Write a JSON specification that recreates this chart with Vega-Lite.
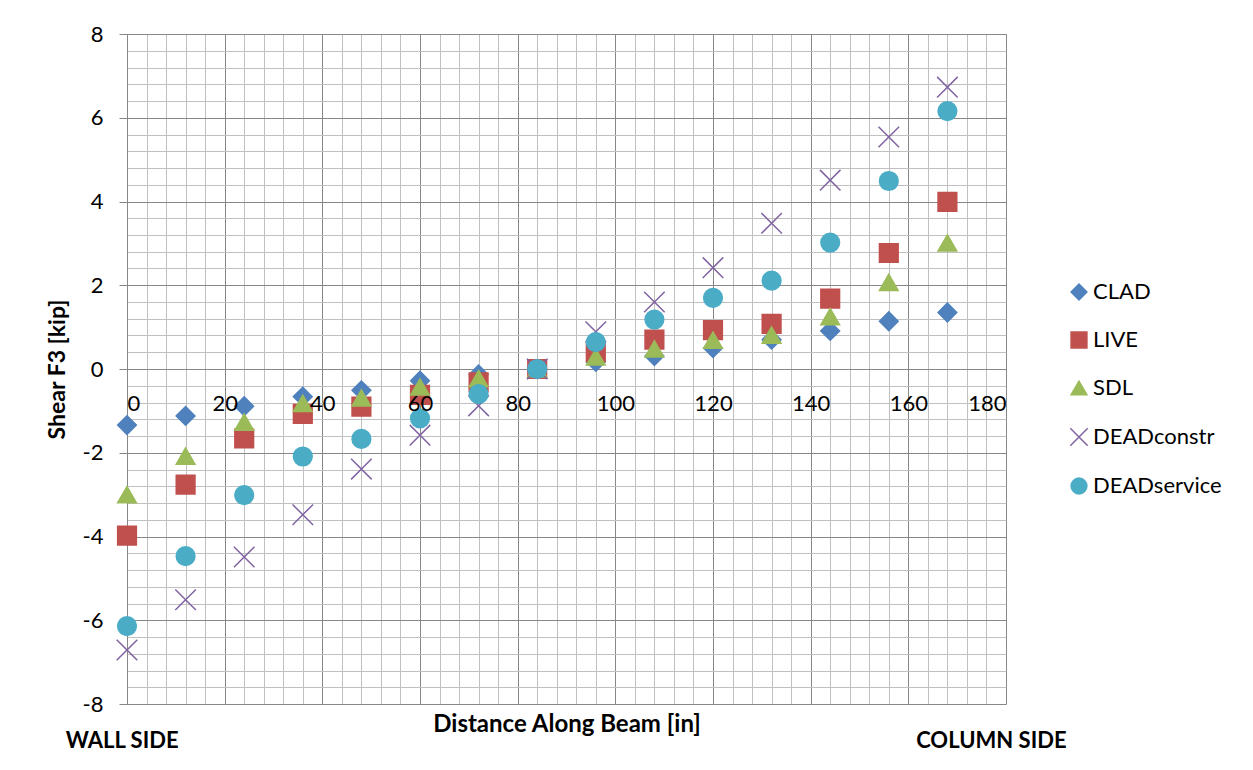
{
  "$schema": "https://vega.github.io/schema/vega-lite/v6.json",
  "width": 879,
  "height": 670,
  "autosize": {"type": "none"},
  "padding": {"left": 127, "top": 34, "right": 247, "bottom": 66},
  "background": "white",
  "config": {
    "font": "Lato",
    "view": {"stroke": null}
  },
  "resolve": {"axis": {"x": "independent", "y": "independent"}},
  "layer": [
    {
      "data": {
        "values": [
          {"x": 0, "series": "CLAD", "v": -1.34},
          {"x": 12, "series": "CLAD", "v": -1.12},
          {"x": 24, "series": "CLAD", "v": -0.89},
          {"x": 36, "series": "CLAD", "v": -0.66},
          {"x": 48, "series": "CLAD", "v": -0.51},
          {"x": 60, "series": "CLAD", "v": -0.28},
          {"x": 72, "series": "CLAD", "v": -0.13},
          {"x": 84, "series": "CLAD", "v": 0},
          {"x": 96, "series": "CLAD", "v": 0.17},
          {"x": 108, "series": "CLAD", "v": 0.31},
          {"x": 120, "series": "CLAD", "v": 0.5},
          {"x": 132, "series": "CLAD", "v": 0.7},
          {"x": 144, "series": "CLAD", "v": 0.91},
          {"x": 156, "series": "CLAD", "v": 1.14},
          {"x": 168, "series": "CLAD", "v": 1.35},
          {"x": 0, "series": "LIVE", "v": -3.98},
          {"x": 12, "series": "LIVE", "v": -2.76},
          {"x": 24, "series": "LIVE", "v": -1.66},
          {"x": 36, "series": "LIVE", "v": -1.07},
          {"x": 48, "series": "LIVE", "v": -0.9},
          {"x": 60, "series": "LIVE", "v": -0.62},
          {"x": 72, "series": "LIVE", "v": -0.32},
          {"x": 84, "series": "LIVE", "v": 0},
          {"x": 96, "series": "LIVE", "v": 0.4},
          {"x": 108, "series": "LIVE", "v": 0.7},
          {"x": 120, "series": "LIVE", "v": 0.93},
          {"x": 132, "series": "LIVE", "v": 1.08},
          {"x": 144, "series": "LIVE", "v": 1.68},
          {"x": 156, "series": "LIVE", "v": 2.77},
          {"x": 168, "series": "LIVE", "v": 3.99},
          {"x": 0, "series": "SDL", "v": -3.0},
          {"x": 12, "series": "SDL", "v": -2.08},
          {"x": 24, "series": "SDL", "v": -1.27},
          {"x": 36, "series": "SDL", "v": -0.82},
          {"x": 48, "series": "SDL", "v": -0.69},
          {"x": 60, "series": "SDL", "v": -0.43},
          {"x": 72, "series": "SDL", "v": -0.23},
          {"x": 84, "series": "SDL", "v": 0},
          {"x": 96, "series": "SDL", "v": 0.29},
          {"x": 108, "series": "SDL", "v": 0.48},
          {"x": 120, "series": "SDL", "v": 0.69},
          {"x": 132, "series": "SDL", "v": 0.81},
          {"x": 144, "series": "SDL", "v": 1.25},
          {"x": 156, "series": "SDL", "v": 2.07},
          {"x": 168, "series": "SDL", "v": 3.01},
          {"x": 0, "series": "DEADconstr", "v": -6.71},
          {"x": 12, "series": "DEADconstr", "v": -5.51},
          {"x": 24, "series": "DEADconstr", "v": -4.49},
          {"x": 36, "series": "DEADconstr", "v": -3.48},
          {"x": 48, "series": "DEADconstr", "v": -2.39},
          {"x": 60, "series": "DEADconstr", "v": -1.58},
          {"x": 72, "series": "DEADconstr", "v": -0.88},
          {"x": 84, "series": "DEADconstr", "v": 0},
          {"x": 96, "series": "DEADconstr", "v": 0.89},
          {"x": 108, "series": "DEADconstr", "v": 1.6},
          {"x": 120, "series": "DEADconstr", "v": 2.42},
          {"x": 132, "series": "DEADconstr", "v": 3.48},
          {"x": 144, "series": "DEADconstr", "v": 4.51},
          {"x": 156, "series": "DEADconstr", "v": 5.54},
          {"x": 168, "series": "DEADconstr", "v": 6.73},
          {"x": 0, "series": "DEADservice", "v": -6.14},
          {"x": 12, "series": "DEADservice", "v": -4.47},
          {"x": 24, "series": "DEADservice", "v": -3.01},
          {"x": 36, "series": "DEADservice", "v": -2.09},
          {"x": 48, "series": "DEADservice", "v": -1.67},
          {"x": 60, "series": "DEADservice", "v": -1.18},
          {"x": 72, "series": "DEADservice", "v": -0.6},
          {"x": 84, "series": "DEADservice", "v": 0},
          {"x": 96, "series": "DEADservice", "v": 0.64},
          {"x": 108, "series": "DEADservice", "v": 1.18},
          {"x": 120, "series": "DEADservice", "v": 1.7},
          {"x": 132, "series": "DEADservice", "v": 2.11},
          {"x": 144, "series": "DEADservice", "v": 3.02},
          {"x": 156, "series": "DEADservice", "v": 4.49},
          {"x": 168, "series": "DEADservice", "v": 6.16}
        ]
      },
      "mark": {"type": "point", "size": 350, "strokeWidth": 1.5, "opacity": 1},
      "encoding": {
        "x": {
          "field": "x",
          "type": "quantitative",
          "scale": {"domain": [0, 180], "nice": false, "zero": false},
          "axis": {
            "orient": "bottom",
            "title": null,
            "offset": -335,
            "zindex": 0,
            "values": [0,4,8,12,16,20,24,28,32,36,40,44,48,52,56,60,64,68,72,76,80,84,88,92,96,100,104,108,112,116,120,124,128,132,136,140,144,148,152,156,160,164,168,172,176,180],
            "tickCount": 200,
            "grid": true,
            "gridColor": {"condition": {"test": "datum.value % 20 === 0", "value": "#878787"}, "value": "#C0C0C0"},
            "gridWidth": 1,
            "labels": false,
            "tickSize": 8,
            "tickColor": "#878787",
            "tickOpacity": {"condition": {"test": "datum.value % 20 === 0", "value": 1}, "value": 0},
            "domainColor": "#878787"
          }
        },
        "y": {
          "field": "v",
          "type": "quantitative",
          "scale": {"domain": [-8, 8], "nice": false, "zero": false},
          "axis": {
            "orient": "left",
            "title": null,
            "zindex": 0,
            "values": [-8,-7.6,-7.2,-6.8,-6.4,-6,-5.6,-5.2,-4.8,-4.4,-4,-3.6,-3.2,-2.8,-2.4,-2,-1.6,-1.2,-0.8,-0.4,0,0.4,0.8,1.2,1.6,2,2.4,2.8,3.2,3.6,4,4.4,4.8,5.2,5.6,6,6.4,6.8,7.2,7.6,8],
            "tickCount": 200,
            "grid": true,
            "gridColor": {"condition": {"test": "datum.value % 2 === 0", "value": "#878787"}, "value": "#C0C0C0"},
            "gridWidth": 1,
            "labels": false,
            "tickSize": 8,
            "tickColor": "#878787",
            "tickOpacity": {"condition": {"test": "datum.value % 2 === 0", "value": 1}, "value": 0},
            "domainColor": "#878787"
          }
        },
        "shape": {
          "field": "series",
          "type": "nominal",
          "scale": {
            "domain": ["CLAD", "LIVE", "SDL", "DEADconstr", "DEADservice"],
            "range": ["diamond", "square", "triangle-up", "M-1.1,-1.1L1.1,1.1M-1.1,1.1L1.1,-1.1", "circle"]
          },
          "legend": {
            "title": null,
            "orient": "none",
            "legendX": 941,
            "legendY": 247,
            "labelFontSize": 22,
            "labelColor": "#000000",
            "symbolSize": 250,
            "symbolStrokeWidth": 1.5,
            "rowPadding": 26,
            "labelOffset": 3
          }
        },
        "fill": {
          "field": "series",
          "type": "nominal",
          "scale": {
            "domain": ["CLAD", "LIVE", "SDL", "DEADconstr", "DEADservice"],
            "range": ["#4F81BD", "#C0504D", "#9BBB59", "transparent", "#4BACC6"]
          },
          "legend": {
            "title": null,
            "orient": "none",
            "legendX": 941,
            "legendY": 247,
            "labelFontSize": 22,
            "labelColor": "#000000",
            "symbolSize": 250,
            "symbolStrokeWidth": 1.5,
            "rowPadding": 26,
            "labelOffset": 3
          }
        },
        "stroke": {
          "field": "series",
          "type": "nominal",
          "scale": {
            "domain": ["CLAD", "LIVE", "SDL", "DEADconstr", "DEADservice"],
            "range": ["#4F81BD", "#C0504D", "#9BBB59", "#8064A2", "#4BACC6"]
          },
          "legend": {
            "title": null,
            "orient": "none",
            "legendX": 941,
            "legendY": 247,
            "labelFontSize": 22,
            "labelColor": "#000000",
            "symbolSize": 250,
            "symbolStrokeWidth": 1.5,
            "rowPadding": 26,
            "labelOffset": 3
          }
        }
      }
    },
    {
      "data": {
        "values": [
          {"label": "WALL SIDE", "x": -1, "y": -8.88},
          {"label": "COLUMN SIDE", "x": 177, "y": -8.88}
        ]
      },
      "mark": {"type": "text", "font": "Lato", "fontWeight": "bold", "fontSize": 22, "align": "center", "baseline": "middle", "color": "#000000"},
      "encoding": {
        "x": {
          "field": "x",
          "type": "quantitative",
          "axis": {
            "orient": "bottom",
            "title": "Distance Along Beam [in]",
            "offset": -335,
            "zindex": 1,
            "values": [0,20,40,60,80,100,120,140,160,180],
            "tickCount": 200,
            "grid": false,
            "domain": false,
            "labelOverlap": false,
            "labelFontSize": 22,
            "labelColor": "#000000",
            "labelPadding": 16,
            "tickSize": 8,
            "tickOpacity": 0,
            "titleFontSize": 24,
            "titleFontWeight": "bold",
            "titleColor": "#000000",
            "titleY": 362,
            "titleBaseline": "alphabetic"
          }
        },
        "y": {
          "field": "y",
          "type": "quantitative",
          "axis": {
            "orient": "left",
            "title": "Shear F3 [kip]",
            "zindex": 1,
            "values": [-8,-6,-4,-2,0,2,4,6,8],
            "tickCount": 200,
            "grid": false,
            "domain": false,
            "labelExpr": "'' + datum.value",
            "labelOverlap": false,
            "labelFontSize": 22,
            "labelColor": "#000000",
            "labelPadding": 16,
            "tickSize": 8,
            "tickOpacity": 0,
            "titleFontSize": 23,
            "titleFontWeight": "bold",
            "titleColor": "#000000",
            "titleX": -63,
            "titleBaseline": "alphabetic"
          }
        },
        "text": {"field": "label", "type": "nominal"}
      }
    }
  ]
}
